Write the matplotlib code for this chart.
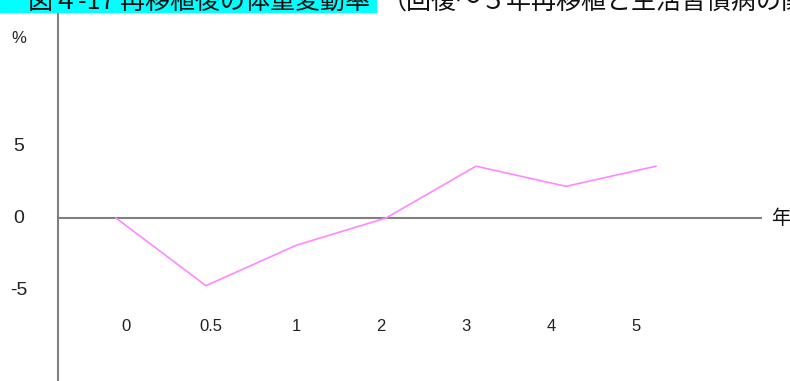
import matplotlib
matplotlib.use("Agg")
import matplotlib.pyplot as plt
from matplotlib.patches import Rectangle
import matplotlib.transforms as mtransforms

# 데이터
years = ["0", "0.5", "1", "2", "3", "4", "5"]
rate = [0.0, -4.7, -1.9, 0.0, 3.6, 2.2, 3.6]
y_labels = ["5", "0", "-5"]
y_values = [5, 0, -5]

title_main = "図４-17 再移植後の体重変動率"
title_sub = "（回復～５年再移植と生活習慣病の関係・中"

W, H = 790, 381
fig = plt.figure(figsize=(W / 100, H / 100), dpi=100)

# 축 영역: 왼쪽 세로선 x=58px, 위쪽 y=12px
ax = fig.add_axes([58 / W, 0, (762 - 58) / W, 1 - 12 / H])
ax.set_xlim(-0.644, 7.178)
ax.set_ylim(-11.32, 14.31)

for s in ["top", "right", "bottom"]:
    ax.spines[s].set_visible(False)
ax.spines["left"].set_color("#808080")
ax.spines["left"].set_linewidth(1.5)
ax.set_xticks([])
ax.set_yticks([])

ax.axhline(0, color="#808080", lw=1.5)
ax.plot(range(len(years)), rate, color="#FF88FF", lw=1.2)

# y축 라벨 (텍스트)
trans_y = mtransforms.blended_transform_factory(fig.transFigure, ax.transData)
for lab, v in zip(y_labels, y_values):
    ax.text(19 / W, v, lab, transform=trans_y, ha="center", va="center",
            fontsize=14, family="Liberation Sans", color="#222222")
ax.text(19 / W, 12.5, "%", transform=trans_y, ha="center", va="center",
        fontsize=12, family="Liberation Sans", color="#222222")

# x축 라벨
for i, lab in enumerate(years):
    ax.text(i * 85 / 90 + 10 / 90, -7.55, lab, ha="center", va="center",
            fontsize=12, family="Liberation Sans", color="#222222")

ax.text(781 / W, 0, "年", transform=trans_y, ha="center", va="center",
        fontsize=14, family=["Noto Sans CJK JP", "DejaVu Sans"], color="#111111")

# 제목 (위쪽이 잘린 상태)
fig.patches.append(Rectangle((0, 1 - 12 / H), 376 / W, 12 / H,
                             transform=fig.transFigure, color="#00FFFF", zorder=0))
fig.text(370 / W, 1 - 9 / H, title_main, ha="right", va="baseline",
         fontsize=18, family=["Noto Sans CJK JP", "DejaVu Sans"], color="#111111")
fig.text(382 / W, 1 - 9 / H, title_sub, ha="left", va="baseline",
         fontsize=18, family=["Noto Sans CJK JP", "DejaVu Sans"], color="#111111")

fig.savefig("out.png", dpi=100)
